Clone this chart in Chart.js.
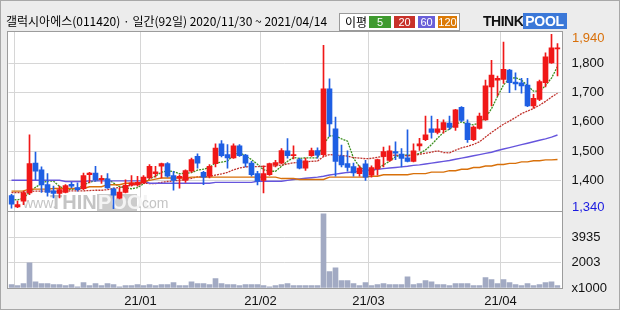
<!DOCTYPE html>
<html><head><meta charset="utf-8">
<script src="https://cdn.jsdelivr.net/npm/chart.js@4.4.0/dist/chart.umd.min.js"></script>
<style>
html,body{margin:0;padding:0;}
body{width:620px;height:310px;background:#ececec;position:relative;overflow:hidden;font-family:"Liberation Sans",Arial,sans-serif;}
#frame{position:absolute;left:0;top:0;width:620px;height:310px;box-sizing:border-box;border:1px solid #a8a8a8;pointer-events:none;z-index:5}
canvas{position:absolute;left:0;top:0;}
#title{position:absolute;left:6px;top:13px;font-size:12px;font-family:"Noto Sans CJK KR",sans-serif;color:#000;white-space:nowrap;line-height:16px}
#legend{position:absolute;left:339px;top:13px;width:119px;height:16px;background:#fff;border:1px solid #9a9a9a;font-size:12px;font-family:"Noto Sans CJK KR",sans-serif;}
#legend span{position:absolute;top:2px;height:12px;line-height:12px;color:#fff;text-align:center;font-family:"Liberation Sans",Arial,sans-serif;font-size:11px;overflow:hidden}
#legend .lbl{color:#000;left:5px;top:1px;height:14px;line-height:14px;font-size:12px;font-family:"Noto Sans CJK KR",sans-serif;}
#logo{position:absolute;left:483px;top:14px;height:15px;white-space:nowrap;font-family:"Liberation Sans",Arial,sans-serif;font-weight:bold;font-size:14px;line-height:15px}
#logo .t{color:#111;letter-spacing:-0.5px}
#logo .p{color:#fff;background:#3b78d8;padding:0 3px 0 2px;letter-spacing:-0.3px}
</style></head>
<body>
<canvas id="price" width="620" height="310"></canvas>
<canvas id="vol" width="620" height="310"></canvas>
<div id="title">갤럭시아에스(011420) · 일간(92일) 2020/11/30 ~ 2021/04/14</div>
<div id="legend"><span class="lbl">이평</span><span style="left:29px;width:22px;background:#3f9a2f">5</span><span style="left:54px;width:21px;background:#c8322a">20</span><span style="left:78px;width:17px;background:#6a5fd8">60</span><span style="left:98px;width:19px;background:#dc7a06">120</span></div>
<div id="logo"><span class="t">THINK</span><span class="p">POOL</span></div>
<div id="frame"></div>
<script>
// ---------- data ----------
const dates = ['2020-11-30',
'2020-12-01','2020-12-02','2020-12-03','2020-12-04','2020-12-07','2020-12-08','2020-12-09','2020-12-10','2020-12-11','2020-12-14','2020-12-15','2020-12-16','2020-12-17','2020-12-18','2020-12-21','2020-12-22','2020-12-23','2020-12-24','2020-12-28','2020-12-29','2020-12-30',
'2021-01-04','2021-01-05','2021-01-06','2021-01-07','2021-01-08','2021-01-11','2021-01-12','2021-01-13','2021-01-14','2021-01-15','2021-01-18','2021-01-19','2021-01-20','2021-01-21','2021-01-22','2021-01-25','2021-01-26','2021-01-27','2021-01-28','2021-01-29',
'2021-02-01','2021-02-02','2021-02-03','2021-02-04','2021-02-05','2021-02-08','2021-02-09','2021-02-10','2021-02-15','2021-02-16','2021-02-17','2021-02-18','2021-02-19','2021-02-22','2021-02-23','2021-02-24','2021-02-25','2021-02-26',
'2021-03-02','2021-03-03','2021-03-04','2021-03-05','2021-03-08','2021-03-09','2021-03-10','2021-03-11','2021-03-12','2021-03-15','2021-03-16','2021-03-17','2021-03-18','2021-03-19','2021-03-22','2021-03-23','2021-03-24','2021-03-25','2021-03-26','2021-03-29','2021-03-30','2021-03-31',
'2021-04-01','2021-04-02','2021-04-05','2021-04-06','2021-04-07','2021-04-08','2021-04-09','2021-04-12','2021-04-13','2021-04-14'];

const openP = [1348,1309,1329,1357,1459,1436,1385,1364,1355,1359,1386,1375,1371,1419,1425,1402,1405,1371,1339,1359,1383,1384,
1391,1408,1423,1448,1457,1416,1407,1400,1431,1482,1427,1414,1457,1525,1488,1477,1518,1486,1459,1423,
1400,1419,1453,1459,1501,1484,1471,1442,1484,1502,1488,1713,1576,1484,1457,1447,1423,1456,
1418,1439,1482,1468,1498,1490,1477,1465,1518,1539,1576,1564,1573,1596,1581,1650,1596,1539,1578,1607,1720,1743,
1745,1777,1736,1734,1726,1655,1677,1734,1802,1850];
const highP = [1352,1329,1363,1556,1497,1446,1423,1380,1380,1385,1393,1391,1425,1427,1448,1416,1423,1374,1373,1402,1416,1414,
1416,1454,1448,1459,1461,1431,1419,1436,1476,1491,1431,1454,1525,1536,1522,1525,1522,1489,1465,1431,
1450,1459,1468,1509,1543,1518,1476,1476,1510,1511,1862,1747,1616,1521,1501,1459,1450,1468,
1450,1473,1514,1518,1532,1509,1573,1525,1544,1620,1620,1609,1607,1620,1643,1652,1607,1586,1630,1743,1811,1757,
1873,1780,1768,1749,1749,1694,1743,1836,1900,1868];
const lowP = [1305,1306,1317,1351,1402,1359,1346,1340,1340,1357,1374,1363,1368,1391,1397,1389,1372,1303,1336,1357,1380,1380,
1389,1405,1411,1408,1411,1366,1373,1393,1427,1442,1385,1408,1446,1480,1442,1475,1482,1446,1414,1384,
1357,1417,1446,1457,1476,1473,1439,1434,1482,1476,1482,1550,1414,1446,1431,1414,1414,1400,
1411,1418,1446,1465,1471,1446,1463,1463,1502,1536,1544,1559,1561,1573,1571,1601,1530,1536,1575,1605,1655,1689,
1732,1700,1709,1698,1652,1647,1673,1720,1800,1757];
const closeP = [1318,1317,1357,1457,1431,1384,1359,1355,1368,1382,1380,1368,1416,1425,1402,1407,1374,1349,1360,1383,1391,1393,
1411,1448,1429,1457,1414,1400,1414,1433,1471,1459,1411,1448,1510,1484,1477,1518,1484,1459,1419,1397,
1423,1457,1461,1502,1484,1488,1442,1467,1502,1486,1713,1593,1465,1453,1444,1425,1442,1411,
1444,1471,1498,1501,1493,1475,1465,1501,1525,1556,1564,1576,1598,1581,1641,1605,1539,1582,1620,1723,1760,1749,
1780,1734,1730,1723,1655,1681,1738,1823,1853,1852];

// volume, thousands of shares
const volume = [260,180,340,1970,490,340,340,260,260,180,260,100,420,180,340,180,340,260,100,180,180,260,
180,260,180,260,260,420,180,180,490,340,340,260,730,340,260,260,180,260,260,260,
180,100,180,260,340,180,180,180,180,180,5770,1270,1580,570,570,340,180,420,
180,260,340,260,260,260,880,260,340,570,490,260,260,180,340,340,340,180,180,810,650,340,
650,420,260,180,340,180,260,420,490,180];

// moving averages (5 / 20 / 60 / 120)
const ma5 = [1335,1333,1338,1360,1376,1389,1398,1397,1379,1370,1369,1371,1383,1394,1398,1404,1405,1391,1378,1375,1371,1375,
1388,1405,1414,1428,1432,1430,1423,1424,1426,1435,1438,1444,1460,1462,1466,1487,1495,1484,1471,1455,
1436,1431,1431,1448,1465,1478,1475,1477,1477,1477,1522,1552,1552,1542,1534,1476,1446,1435,
1433,1439,1453,1465,1481,1488,1486,1487,1492,1504,1522,1544,1564,1575,1592,1600,1593,1590,1597,1614,1645,1687,
1726,1749,1751,1743,1724,1705,1705,1724,1750,1789];
const ma20 = [1358,1358,1359,1362,1363,1363,1363,1362,1362,1363,1364,1364,1364,1365,1366,1366,1368,1372,1376,1380,1383,1387,
1390,1389,1389,1393,1396,1398,1400,1403,1407,1412,1412,1413,1418,1422,1427,1436,1442,1446,1447,1447,
1448,1448,1450,1452,1456,1460,1461,1463,1465,1466,1481,1488,1486,1485,1483,1478,1476,1474,
1475,1479,1482,1485,1486,1485,1484,1485,1489,1493,1496,1501,1495,1494,1503,1511,1516,1523,1532,1548,1564,1578,
1592,1603,1615,1628,1637,1646,1657,1670,1685,1698];
const ma60 = [1400,1400,1400,1400,1400,1400,1400,1400,1400,1396,1396,1396,1396,1398,1398,1398,1398,1398,1398,1398,1398,1398,
1398,1390,1390,1390,1390,1390,1390,1390,1390,1390,1390,1390,1393,1393,1393,1393,1393,1393,1393,1397,
1397,1397,1397,1397,1400,1403,1405,1407,1409,1411,1414,1418,1421,1424,1427,1429,1431,1433,
1436,1438,1440,1442,1444,1446,1448,1451,1453,1456,1459,1462,1465,1468,1472,1476,1480,1484,1488,1492,1496,1502,
1507,1512,1517,1522,1527,1532,1537,1542,1548,1555];
const ma120 = [1363,1363,1364,1370,1370,1370,1370,1372,1372,1372,1372,1372,1372,1378,1378,1378,1385,1385,1385,1390,1390,1390,
1396,1400,1404,1408,1408,1408,1408,1408,1411,1411,1411,1411,1411,1411,1411,1411,1411,1411,1411,1411,
1411,1411,1411,1406,1406,1406,1403,1403,1403,1403,1403,1411,1411,1411,1411,1411,1411,1411,
1414,1414,1419,1419,1419,1419,1419,1423,1423,1423,1428,1428,1428,1433,1433,1438,1438,1444,1444,1449,1449,1454,
1454,1458,1458,1463,1463,1467,1467,1470,1470,1471];

// axis labels
const priceTicks = [1400,1500,1600,1700,1800];
const priceExtremeLabels = ['1,940','1,340'];   // max / min marks at the axis
const volumeTicks = [0,2003,3935];
const volumeTickLabels = ['x1000','2003','3935'];
const monthLabels = {'2021-01':'21/01','2021-02':'21/02','2021-03':'21/03','2021-04':'21/04'};

// ---------- helpers ----------
const UP = '#f01818', DOWN = '#1f5fe3';
const candleColors = openP.map((o,i)=> closeP[i] >= o ? UP : DOWN);
const monthStart = dates.map((d,i)=> i>0 && d.slice(0,7)!==dates[i-1].slice(0,7));
const GRID = '#d6d6d6';
const AXFONT = {family:'"Liberation Sans", Arial, sans-serif', size:13};
const PLOT_L = 7, PLOT_R = 562.5;

const framePlugin = {
  id:'frame',
  beforeDraw(chart){
    const {ctx, chartArea:a} = chart;
    ctx.save(); ctx.fillStyle='#fff';
    ctx.fillRect(PLOT_L, a.top, PLOT_R-PLOT_L, a.bottom-a.top);
    ctx.restore();
  },
  afterDraw(chart){
    const {ctx, chartArea:a} = chart;
    ctx.save(); ctx.strokeStyle='#9c9c9c'; ctx.lineWidth=1;
    ctx.strokeRect(PLOT_L+0.5, Math.round(a.top)+0.5, PLOT_R-PLOT_L-0.5, Math.round(a.bottom-a.top));
    ctx.restore();
  }
};

const watermarkPlugin = {
  id:'wm',
  beforeDatasetsDraw(chart){
    const ctx = chart.ctx;
    ctx.save();
    ctx.textBaseline='alphabetic';
    ctx.fillStyle='#c4c4c4';
    ctx.font='14px "Liberation Sans", Arial, sans-serif';
    ctx.fillText('www.', 23, 208);
    ctx.font='bold 20px "Liberation Sans", Arial, sans-serif';
    ctx.fillText('THINK', 50, 209);
    ctx.fillStyle='#cccccc';
    ctx.fillRect(97, 194, 40, 17);
    ctx.fillStyle='#f4f4f4';
    ctx.fillText('POOL', 98, 209);
    ctx.fillStyle='#c4c4c4';
    ctx.font='14px "Liberation Sans", Arial, sans-serif';
    ctx.fillText('.com', 138, 208);
    ctx.restore();
  }
};

const extremePlugin = {
  id:'extremes',
  afterDraw(chart){
    const {ctx, chartArea:a, scales} = chart;
    const y = scales.y;
    const yMax = Math.max(a.top+7, y.getPixelForValue(Math.max(...highP)));
    const yMin = Math.min(a.bottom-4, y.getPixelForValue(Math.min(...lowP)));
    ctx.save();
    ctx.font = '13px "Liberation Sans", Arial, sans-serif';
    ctx.textAlign='left'; ctx.textBaseline='middle';
    ctx.fillStyle='#d9700a'; ctx.fillText(priceExtremeLabels[0], 572, yMax);
    ctx.fillStyle='#1a1ae0'; ctx.fillText(priceExtremeLabels[1], 572, yMin);
    ctx.restore();
  }
};

const xGrid = {
  offset:true, drawTicks:false,
  color: c => (c.index!==undefined && monthStart[c.index]) ? GRID : 'rgba(0,0,0,0)',
  lineWidth:1
};

Chart.defaults.font.family = '"Liberation Sans", Arial, sans-serif';

// ---------- price chart ----------
new Chart(document.getElementById('price'), {
  data:{
    labels: dates,
    datasets:[
      {type:'bar', data: lowP.map((l,i)=>[l,highP[i]]), backgroundColor:candleColors, barThickness:1, grouped:false, order:0},
      {type:'bar', data: openP.map((o,i)=>[o,closeP[i]]), backgroundColor:candleColors, barThickness:5, minBarLength:1, grouped:false, order:0},
      {type:'line', data: ma120, borderColor:'#d8700a', borderWidth:1.4, pointRadius:0, order:1},
      {type:'line', data: ma60, borderColor:'#6655dd', borderWidth:1.4, pointRadius:0, order:1},
      {type:'line', data: ma20, borderColor:'#c0322c', borderWidth:1.3, borderDash:[2,1], pointRadius:0, order:1},
      {type:'line', data: ma5, borderColor:'#3c9020', borderWidth:1.3, borderDash:[2,1], pointRadius:0, order:1}
    ]
  },
  options:{
    responsive:false, animation:false, devicePixelRatio:1,
    layout:{padding:{left:8.5, top:31, bottom:99, right:0}},
    plugins:{legend:{display:false}, tooltip:{enabled:false}},
    scales:{
      x:{ type:'category', offset:true, grid:xGrid, border:{display:false},
          ticks:{display:false}, afterFit(s){ s.height=0; } },
      y:{ position:'right', min:1295, max:1911,
          afterBuildTicks(s){ s.ticks = priceTicks.map(v=>({value:v})); },
          afterFit(s){ s.width = 59.5; },
          grid:{color:GRID, drawTicks:false}, border:{display:false},
          ticks:{padding:11, font:AXFONT, color:'#111', crossAlign:'near',
                 callback:v=> v.toLocaleString('en-US')} }
    }
  },
  plugins:[framePlugin, watermarkPlugin, extremePlugin]
});

// ---------- volume chart ----------
new Chart(document.getElementById('vol'), {
  type:'bar',
  data:{ labels: dates,
    datasets:[{data: volume, backgroundColor:'#a2aac3', barThickness:5}] },
  options:{
    responsive:false, animation:false, devicePixelRatio:1,
    layout:{padding:{left:8.5, top:211, bottom:0, right:0}},
    plugins:{legend:{display:false}, tooltip:{enabled:false}},
    scales:{
      x:{ offset:true, grid:xGrid, border:{display:false},
          ticks:{autoSkip:false, maxRotation:0, padding:6, labelOffset:-3, font:AXFONT, color:'#111',
                 callback:(v,i)=> monthStart[i] ? (monthLabels[dates[i].slice(0,7)]||'') : ''},
          afterFit(s){ s.height = 22; } },
      y:{ position:'right', min:0, max:6000,
          afterBuildTicks(s){ s.ticks = volumeTicks.map(v=>({value:v})); },
          afterFit(s){ s.width = 59.5; },
          grid:{color:c=> (c.tick && c.tick.value>0) ? GRID : 'rgba(0,0,0,0)', drawTicks:false}, border:{display:false},
          ticks:{padding:11, font:AXFONT, color:'#111', crossAlign:'near',
                 callback:(v)=> volumeTickLabels[volumeTicks.indexOf(v)]} }
    }
  },
  plugins:[framePlugin]
});
</script>
</body></html>
